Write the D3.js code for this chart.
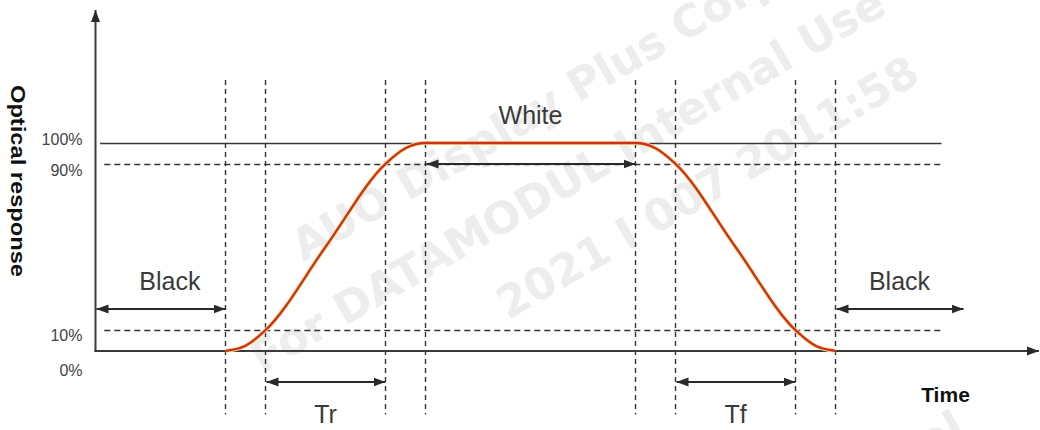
<!DOCTYPE html>
<html><head><meta charset="utf-8">
<script src="https://cdn.jsdelivr.net/npm/d3@7"></script>
<style>html,body{margin:0;padding:0;background:#fff;} svg{display:block}</style>
</head><body><svg id="chart" width="1040" height="430"></svg>
<script>
// ---- data ----
const levelTicks = [100, 90, 10, 0];
const tickLabels = ["100%", "90%", "10%", "0%"];
const markerTimes = [32.5, 42.5, 72.5, 82.5, 135, 145, 175, 185];
const responseTime  = [32.5, 37.5, 42.5, 57.5, 72.5, 77.5, 82.5, 135, 140, 145, 160, 175, 180, 185];
const responseLevel = [0, 2.5, 10, 50, 90, 97.5, 100, 100, 97.5, 90, 50, 10, 2.5, 0];
const refLevels = [100, 90, 10];
const refDashed = [false, true, true];
const spanLabels = ["Black", "Tr", "White", "Tf", "Black"];
const spanStart = [0, 42.5, 82.5, 145, 185];
const spanEnd   = [32.5, 72.5, 135, 175, 217];
const spanLevel = [20, -15, 90, -15, 20];
const spanLabelTime  = [18.6, 57.5, 108.75, 160, 201];
const spanLabelLevel = [29.3, -34.6, 109.1, -34.6, 29.3];
const axisTitleX = "Time";
const axisTitleY = "Optical response";
const watermarkLines = ["AUO Display Plus Corp.", "For DATAMODUL Internal Use", "2021 I 007 2011:58", "Confidential"];

// ---- scales ----
const svg = d3.select("#chart");
const x = d3.scaleLinear().domain([0, 235]).range([95.5, 1035.5]);
const y = d3.scaleLinear().domain([0, 100]).range([351, 143]);
const ink = "#2a2a2a";

// ---- watermark ----
const wm = svg.append("g").attr("fill", "#ededed")
  .attr("font-family", "DejaVu Sans, Verdana, sans-serif").attr("font-weight", "bold").attr("font-size", 44);
const wmPos = [[303, 262, "start"], [262, 374, "start"], [508, 320, "start"], [968, 436, "end"]];
watermarkLines.forEach((t, i) => {
  wm.append("text").attr("text-anchor", wmPos[i][2])
    .attr("transform", `translate(${wmPos[i][0]},${wmPos[i][1]}) rotate(-30)`).text(t);
});

// ---- markers (arrow heads) ----
const defs = svg.append("defs");
defs.append("marker").attr("id", "ah").attr("viewBox", "0 0 12 10")
  .attr("refX", 12).attr("refY", 5).attr("markerWidth", 12).attr("markerHeight", 10)
  .attr("markerUnits", "userSpaceOnUse").attr("orient", "auto-start-reverse")
  .append("path").attr("d", "M0,0.5 L12,5 L0,9.5 Z").attr("fill", ink);

// ---- reference horizontal lines ----
refLevels.forEach((lv, i) => {
  svg.append("line")
    .attr("x1", x(refDashed[i] ? 2.2 : 1.1)).attr("x2", x(211.5))
    .attr("y1", Math.round(y(lv)) + 0.5).attr("y2", Math.round(y(lv)) + 0.5)
    .attr("stroke", refDashed[i] ? "#333" : "#3a3a3a")
    .attr("stroke-width", refDashed[i] ? 1.4 : 1.6)
    .attr("stroke-dasharray", refDashed[i] ? "6,4" : null);
});

// ---- vertical marker lines ----
svg.append("g").selectAll("line").data(markerTimes).join("line")
  .attr("x1", d => x(d)).attr("x2", d => x(d))
  .attr("y1", y(130.3)).attr("y2", y(-30.5))
  .attr("stroke", "#333").attr("stroke-width", 1.4).attr("stroke-dasharray", "5,4");

// ---- axes ----
svg.append("line").attr("x1", x(0)).attr("x2", x(0)).attr("y1", y(0) + 1).attr("y2", 10)
  .attr("stroke", "#3a3a3a").attr("stroke-width", 2).attr("marker-end", "url(#ah)");
svg.append("line").attr("x1", x(0) - 1).attr("x2", 1039).attr("y1", y(0)).attr("y2", y(0))
  .attr("stroke", "#3a3a3a").attr("stroke-width", 2).attr("marker-end", "url(#ah)");

const yAxis = d3.axisLeft(y).tickValues(levelTicks)
  .tickFormat((d, i) => tickLabels[i]).tickSize(0).tickPadding(13);
const tickDy = {100: 1, 90: 12, 10: 10, 0: 24};
const gy = svg.append("g").attr("transform", `translate(${x(0)},0)`).call(yAxis);
gy.select(".domain").remove();
gy.selectAll("text").attr("font-family", "Liberation Sans, Arial, sans-serif")
  .attr("font-size", 16).attr("fill", "#444").attr("dy", null)
  .attr("dominant-baseline", "alphabetic")
  .attr("y", d => tickDy[d]);

// ---- response curve ----
const pts = responseTime.map((t, i) => [t, responseLevel[i]]);
const line = d3.line().x(d => x(d[0])).y(d => y(d[1])).curve(d3.curveMonotoneX);
svg.append("path").attr("d", line(pts)).attr("fill", "none")
  .attr("stroke", "#f7e08e").attr("stroke-width", 4).attr("stroke-linejoin", "round");
svg.append("path").attr("d", line(pts)).attr("fill", "none")
  .attr("stroke", "#cf2f1a").attr("stroke-width", 2.3).attr("stroke-linejoin", "round");

// ---- spans (double arrows) and labels ----
spanLabels.forEach((lab, i) => {
  const yy = Math.round(y(spanLevel[i]));
  svg.append("line").attr("x1", x(spanStart[i]) + 1).attr("x2", x(spanEnd[i]))
    .attr("y1", yy).attr("y2", yy)
    .attr("stroke", ink).attr("stroke-width", 2)
    .attr("marker-start", "url(#ah)").attr("marker-end", "url(#ah)");
  svg.append("text").attr("x", x(spanLabelTime[i])).attr("y", y(spanLabelLevel[i]))
    .attr("text-anchor", "middle")
    .attr("font-family", "Liberation Sans, Arial, sans-serif")
    .attr("font-size", 25).attr("fill", "#3a3a3a").text(lab);
});

// ---- axis titles ----
svg.append("text").attr("x", 945.5).attr("y", 402).attr("text-anchor", "middle")
  .attr("font-family", "Liberation Sans, Arial, sans-serif").attr("font-weight", "bold")
  .attr("font-size", 21).attr("fill", "#111").text(axisTitleX);
svg.append("text").attr("transform", "translate(11,181) rotate(90)")
  .attr("text-anchor", "middle")
  .attr("font-family", "Liberation Sans, Arial, sans-serif").attr("font-weight", "bold")
  .attr("font-size", 20).attr("fill", "#111")
  .attr("textLength", 192).attr("lengthAdjust", "spacingAndGlyphs")
  .text(axisTitleY);
</script></body></html>
